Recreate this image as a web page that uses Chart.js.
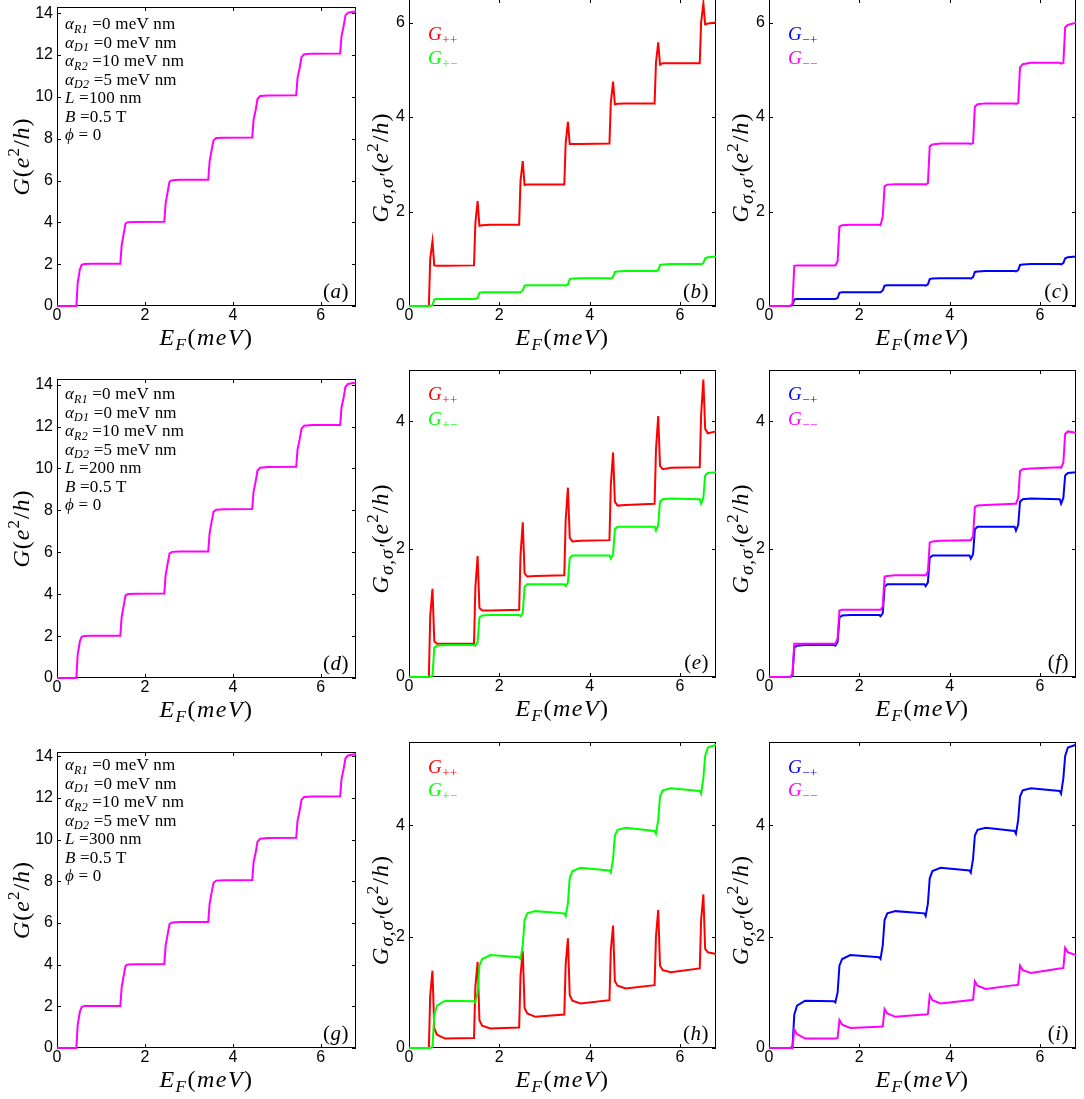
<!DOCTYPE html>
<html>
<head>
<meta charset="utf-8">
<script src="https://cdn.jsdelivr.net/npm/chart.js@4.4.1/dist/chart.umd.min.js"></script>
<style>
  html, body { margin: 0; padding: 0; background: #fff; }
  body { position: relative; width: 1084px; height: 1099px; overflow: hidden; }
  canvas { position: absolute; }
</style>
</head>
<body>
<script>
// Fermi energy grid (meV), shared by every curve
const EF = [0,
  0.44, 0.47, 0.52, 0.56, 0.62, 0.8,
  1.44, 1.47, 1.52, 1.56, 1.62, 1.8,
  2.44, 2.47, 2.52, 2.56, 2.62, 2.8,
  3.44, 3.47, 3.52, 3.56, 3.62, 3.8,
  4.44, 4.47, 4.52, 4.56, 4.62, 4.8,
  5.44, 5.47, 5.52, 5.56, 5.62, 5.8,
  6.44, 6.47, 6.52, 6.56, 6.62, 6.8];

// total conductance G (e^2/h), same for L = 100, 200, 300 nm
const G_total = [0,
  0, 1.1, 1.75, 1.97, 2.01, 2.02,
  2.02, 2.9, 3.5, 3.95, 4.01, 4.02,
  4.03, 4.9, 5.5, 5.95, 6.02, 6.04,
  6.04, 6.9, 7.5, 7.93, 8.03, 8.05,
  8.06, 8.9, 9.4, 9.9, 10.04, 10.07,
  10.08, 10.9, 11.4, 11.9, 12.04, 12.07,
  12.08, 12.9, 13.4, 13.9, 14.03, 14.1];

// L = 100 nm
const Gpp_L100 = [0,
  0, 1.0, 1.37, 0.86, 0.85, 0.85,
  0.86, 1.75, 2.22, 1.70, 1.71, 1.72,
  1.72, 2.65, 3.07, 2.56, 2.57, 2.57,
  2.57, 3.45, 3.90, 3.43, 3.43, 3.43,
  3.44, 4.30, 4.75, 4.27, 4.28, 4.29,
  4.29, 5.15, 5.58, 5.11, 5.14, 5.14,
  5.14, 6.0, 6.41, 5.96, 5.98, 6.0];
const Gpm_L100 = [0,
  0, 0, 0.02, 0.14, 0.15, 0.15,
  0.15, 0.15, 0.17, 0.28, 0.29, 0.29,
  0.29, 0.29, 0.33, 0.43, 0.44, 0.44,
  0.44, 0.43, 0.46, 0.57, 0.58, 0.59,
  0.59, 0.58, 0.61, 0.72, 0.73, 0.74,
  0.74, 0.73, 0.76, 0.87, 0.88, 0.89,
  0.89, 0.88, 0.91, 1.01, 1.03, 1.05];
const Gmm_L100 = [0,
  0, 0, 0.05, 0.85, 0.86, 0.86,
  0.86, 0.86, 0.95, 1.68, 1.71, 1.72,
  1.72, 1.71, 1.9, 2.54, 2.57, 2.58,
  2.58, 2.57, 2.6, 3.38, 3.42, 3.44,
  3.44, 3.43, 3.45, 4.22, 4.27, 4.29,
  4.29, 4.28, 4.3, 5.05, 5.12, 5.15,
  5.15, 5.13, 5.15, 5.9, 5.95, 6.0];

// L = 200 nm
const Gpp_L200 = [0,
  0, 0.95, 1.38, 0.56, 0.52, 0.52,
  0.52, 1.4, 1.89, 1.08, 1.04, 1.04,
  1.05, 1.9, 2.42, 1.62, 1.57, 1.58,
  1.59, 2.45, 2.96, 2.18, 2.12, 2.13,
  2.14, 3.0, 3.51, 2.74, 2.68, 2.69,
  2.71, 3.55, 4.08, 3.3, 3.25, 3.27,
  3.28, 4.1, 4.65, 3.88, 3.81, 3.84];
const Gpm_L200 = [0,
  0, 0, 0.02, 0.46, 0.49, 0.5,
  0.5, 0.49, 0.55, 0.93, 0.96, 0.97,
  0.97, 0.95, 1.0, 1.41, 1.45, 1.45,
  1.45, 1.42, 1.48, 1.86, 1.9, 1.9,
  1.9, 1.85, 1.92, 2.31, 2.35, 2.35,
  2.35, 2.29, 2.38, 2.74, 2.78, 2.79,
  2.78, 2.71, 2.8, 3.15, 3.19, 3.2];
const Gmm_L200 = [0,
  0, 0, 0.05, 0.52, 0.52, 0.52,
  0.52, 0.52, 0.6, 1.04, 1.05, 1.05,
  1.05, 1.05, 1.1, 1.57, 1.58, 1.59,
  1.59, 1.59, 1.65, 2.1, 2.12, 2.13,
  2.14, 2.14, 2.2, 2.66, 2.68, 2.69,
  2.71, 2.71, 2.8, 3.22, 3.25, 3.26,
  3.28, 3.27, 3.35, 3.8, 3.84, 3.82];

// L = 300 nm
const Gpp_L300 = [0,
  0, 0.95, 1.39, 0.35, 0.24, 0.17,
  0.18, 1.1, 1.55, 0.5, 0.4, 0.35,
  0.37, 1.3, 1.74, 0.72, 0.62, 0.56,
  0.6, 1.5, 1.97, 0.95, 0.85, 0.8,
  0.86, 1.75, 2.2, 1.2, 1.12, 1.07,
  1.13, 2.0, 2.48, 1.48, 1.4, 1.36,
  1.43, 2.3, 2.76, 1.78, 1.72, 1.69];
const Gpm_L300 = [0,
  0, 0, 0.02, 0.6, 0.76, 0.85,
  0.84, 0.82, 1.0, 1.48, 1.6, 1.67,
  1.63, 1.6, 1.85, 2.3, 2.42, 2.46,
  2.42, 2.37, 2.6, 3.05, 3.18, 3.24,
  3.19, 3.15, 3.4, 3.82, 3.92, 3.96,
  3.9, 3.85, 4.1, 4.52, 4.63, 4.67,
  4.62, 4.57, 4.85, 5.25, 5.4, 5.45];
const Gmm_L300 = [0,
  0, 0, 0.0, 0.33, 0.25, 0.17,
  0.17, 0.17, 0.18, 0.5, 0.42, 0.36,
  0.38, 0.38, 0.39, 0.7, 0.62, 0.56,
  0.6, 0.6, 0.61, 0.95, 0.86, 0.8,
  0.86, 0.86, 0.87, 1.2, 1.12, 1.06,
  1.13, 1.13, 1.14, 1.48, 1.4, 1.35,
  1.43, 1.43, 1.44, 1.8, 1.72, 1.67];

const X_TICKS_STEP = 2;
const Y_TICKS_STEP = 2;

const MAGENTA = '#ff00ff', RED = '#ff0000', GREEN = '#00ff00', BLUE = '#0000ff';
const SERIF = '"Liberation Serif", "DejaVu Serif", serif';
const SANS = '"Liberation Sans", Arial, sans-serif';

// rich text pieces: [text, kind]
// i = italic, r = roman, is/rs = subscript, ib = large subscript, rp = superscript
const X_TITLE = [['E', 'i'], ['F', 'is'], ['(', 'r'], ['meV', 'i'], [')', 'r']];
const Y_TITLE_TOTAL = [['G', 'i'], ['(', 'r'], ['e', 'i'], ['2', 'rp'], ['/', 'r'], ['h', 'i'], [')', 'r']];
const Y_TITLE_SPIN = [['G', 'i'], ['σ,σ′', 'ib'], ['(', 'r'], ['e', 'i'], ['2', 'rp'], ['/', 'r'], ['h', 'i'], [')', 'r']];

function paramText(len) {
  return [
    [['α', 'i'], ['R1', 'is'], [' =0 meV nm', 'r']],
    [['α', 'i'], ['D1', 'is'], [' =0 meV nm', 'r']],
    [['α', 'i'], ['R2', 'is'], [' =10 meV nm', 'r']],
    [['α', 'i'], ['D2', 'is'], [' =5 meV nm', 'r']],
    [['L', 'i'], [' =' + len + ' nm', 'r']],
    [['B', 'i'], [' =0.5 T', 'r']],
    [['ϕ', 'i'], [' = 0', 'r']]
  ];
}

const LEG_PP = [['G', 'i'], ['++', 'rs']];
const LEG_PM = [['G', 'i'], ['+−', 'rs']];
const LEG_MP = [['G', 'i'], ['−+', 'rs']];
const LEG_MM = [['G', 'i'], ['−−', 'rs']];

// plot rectangles in page pixels: [left, top, right, bottom]
const panels = [
  { tag: 'a', plot: [57, 7, 356, 306], ymax: 14.3, lines: [[G_total, MAGENTA]], yTitle: Y_TITLE_TOTAL, params: paramText(100), paramTop: 22 },
  { tag: 'b', plot: [409, -1, 716, 306], ymax: 6.5, lines: [[Gpp_L100, RED], [Gpm_L100, GREEN]], yTitle: Y_TITLE_SPIN,
    legend: [[LEG_PP, RED], [LEG_PM, GREEN]], legendY: [41, 65] },
  { tag: 'c', plot: [769, -1, 1076, 306], ymax: 6.5, lines: [[Gpm_L100, BLUE], [Gmm_L100, MAGENTA]], yTitle: Y_TITLE_SPIN,
    legend: [[LEG_MP, BLUE], [LEG_MM, MAGENTA]], legendY: [41, 65] },
  { tag: 'd', plot: [57, 379, 356, 678], ymax: 14.27, lines: [[G_total, MAGENTA]], yTitle: Y_TITLE_TOTAL, params: paramText(200), paramTop: 20 },
  { tag: 'e', plot: [409, 370, 716, 677], ymax: 4.8, lines: [[Gpp_L200, RED], [Gpm_L200, GREEN]], yTitle: Y_TITLE_SPIN,
    legend: [[LEG_PP, RED], [LEG_PM, GREEN]], legendY: [30, 55] },
  { tag: 'f', plot: [769, 370, 1076, 677], ymax: 4.8, lines: [[Gpm_L200, BLUE], [Gmm_L200, MAGENTA]], yTitle: Y_TITLE_SPIN,
    legend: [[LEG_MP, BLUE], [LEG_MM, MAGENTA]], legendY: [30, 55] },
  { tag: 'g', plot: [57, 752, 356, 1048], ymax: 14.2, lines: [[G_total, MAGENTA]], yTitle: Y_TITLE_TOTAL, params: paramText(300), paramTop: 18 },
  { tag: 'h', plot: [409, 742, 716, 1048], ymax: 5.5, lines: [[Gpp_L300, RED], [Gpm_L300, GREEN]], yTitle: Y_TITLE_SPIN,
    legend: [[LEG_PP, RED], [LEG_PM, GREEN]], legendY: [31, 54] },
  { tag: 'i', plot: [769, 742, 1076, 1048], ymax: 5.5, lines: [[Gpm_L300, BLUE], [Gmm_L300, MAGENTA]], yTitle: Y_TITLE_SPIN,
    legend: [[LEG_MP, BLUE], [LEG_MM, MAGENTA]], legendY: [31, 54] }
];

function fontFor(kind, size) {
  let px = size;
  if (kind === 'is' || kind === 'rs' || kind === 'rp') px = Math.round(size * 0.7);
  if (kind === 'ib') px = Math.round(size * 0.8);
  const italic = kind === 'i' || kind === 'is' || kind === 'ib';
  return (italic ? 'italic ' : '') + px + 'px ' + SERIF;
}

function shiftFor(kind, size) {
  if (kind === 'is' || kind === 'rs' || kind === 'ib') return size * 0.22;
  if (kind === 'rp') return -size * 0.4;
  return 0;
}

function richWidth(ctx, parts, size) {
  let w = 0;
  parts.forEach(([t, k]) => { ctx.font = fontFor(k, size); w += ctx.measureText(t).width; });
  return w;
}

function drawRich(ctx, parts, x, y, size, align, spacing) {
  ctx.letterSpacing = (spacing || 0) + 'px';
  const w = richWidth(ctx, parts, size);
  let cx = align === 'center' ? x - w / 2 : align === 'right' ? x - w : x;
  ctx.textBaseline = 'alphabetic';
  ctx.textAlign = 'left';
  parts.forEach(([t, k]) => {
    ctx.font = fontFor(k, size);
    ctx.fillText(t, cx, y + shiftFor(k, size));
    cx += ctx.measureText(t).width;
  });
  ctx.letterSpacing = '0px';
}

// frame and inward ticks go under the curves, text goes on top
function makeDecor(p, firstCol) {
  return {
    id: 'decor',
    beforeDatasetsDraw(chart) {
      const { ctx, chartArea: a, scales: { x, y } } = chart;
      ctx.save();
      ctx.strokeStyle = '#000';
      ctx.lineWidth = 1;
      ctx.strokeRect(a.left + 0.5, a.top + 0.5, a.right - a.left - 1, a.bottom - a.top - 1);
      ctx.beginPath();
      x.ticks.forEach(t => {
        const px = Math.round(x.getPixelForValue(t.value)) + 0.5;
        ctx.moveTo(px, a.bottom); ctx.lineTo(px, a.bottom - 4);
        ctx.moveTo(px, a.top); ctx.lineTo(px, a.top + 4);
      });
      y.ticks.forEach(t => {
        const py = Math.round(y.getPixelForValue(t.value)) + 0.5;
        ctx.moveTo(a.left, py); ctx.lineTo(a.left + 4, py);
        ctx.moveTo(a.right, py); ctx.lineTo(a.right - 4, py);
      });
      ctx.stroke();
      ctx.restore();
    },
    afterDraw(chart) {
      const { ctx, chartArea: a } = chart;
      ctx.save();
      ctx.fillStyle = '#000';
      drawRich(ctx, X_TITLE, (a.left + a.right) / 2, a.bottom + 39, 24, 'center', 1.5);

      ctx.save();
      const midY = (a.top + a.bottom) / 2 + (firstCol ? 0 : 15);
      ctx.translate(a.left - (firstCol ? 28 : 21), midY);
      ctx.rotate(-Math.PI / 2);
      drawRich(ctx, p.yTitle, 0, 0, 24, 'center', 1);
      ctx.restore();

      drawRich(ctx, [['(', 'r'], [p.tag, 'i'], [')', 'r']], a.right - 7, a.bottom - 8, 21, 'right', 0.5);

      if (p.params) {
        p.params.forEach((line, i) => {
          drawRich(ctx, line, a.left + 8, a.top + p.paramTop + i * 18.5, 17, 'left', 0.2);
        });
      }
      if (p.legend) {
        p.legend.forEach(([parts, color], i) => {
          ctx.fillStyle = color;
          drawRich(ctx, parts, a.left + 19, a.top + p.legendY[i], 19, 'left', 0.5);
        });
      }
      ctx.restore();
    }
  };
}

const MARGIN_TOP = 14, MARGIN_RIGHT = 12, AXIS_BOTTOM = 56;

panels.forEach((p, idx) => {
  const [L, T, R, B] = p.plot;
  const firstCol = idx % 3 === 0;
  const lw = firstCol ? 57 : 50;
  const canvas = document.createElement('canvas');
  canvas.width = lw + (R - L) + MARGIN_RIGHT;
  canvas.height = MARGIN_TOP + (B - T) + AXIS_BOTTOM;
  canvas.style.left = (L - lw) + 'px';
  canvas.style.top = (T - MARGIN_TOP) + 'px';
  document.body.appendChild(canvas);

  // later entries in p.lines sit on top, Chart.js paints dataset 0 last
  const datasets = p.lines.slice().reverse().map(([ys, color]) => ({
    data: EF.map((e, i) => ({ x: e, y: ys[i] })),
    borderColor: color,
    borderWidth: 2,
    pointRadius: 0,
    tension: 0,
    fill: false,
    clip: 3
  }));

  const tickFont = { family: SANS, size: 16 };

  new Chart(canvas.getContext('2d'), {
    type: 'line',
    data: { datasets },
    options: {
      responsive: false,
      animation: false,
      devicePixelRatio: 1,
      events: [],
      layout: { padding: { left: 0, top: MARGIN_TOP, right: MARGIN_RIGHT, bottom: 0 } },
      scales: {
        x: {
          type: 'linear', min: 0, max: 6.8,
          afterFit(s) { s.height = AXIS_BOTTOM; },
          grid: { display: false, drawTicks: false },
          border: { display: false },
          ticks: { stepSize: X_TICKS_STEP, includeBounds: false, padding: 0, font: tickFont, color: '#000', maxRotation: 0, autoSkip: false }
        },
        y: {
          type: 'linear', min: 0, max: p.ymax,
          afterFit(s) { s.width = lw; },
          grid: { display: false, drawTicks: false },
          border: { display: false },
          ticks: { stepSize: Y_TICKS_STEP, includeBounds: false, padding: 4, font: tickFont, color: '#000' }
        }
      },
      plugins: { legend: { display: false }, tooltip: { enabled: false } }
    },
    plugins: [makeDecor(p, firstCol)]
  });
});
</script>
</body>
</html>
